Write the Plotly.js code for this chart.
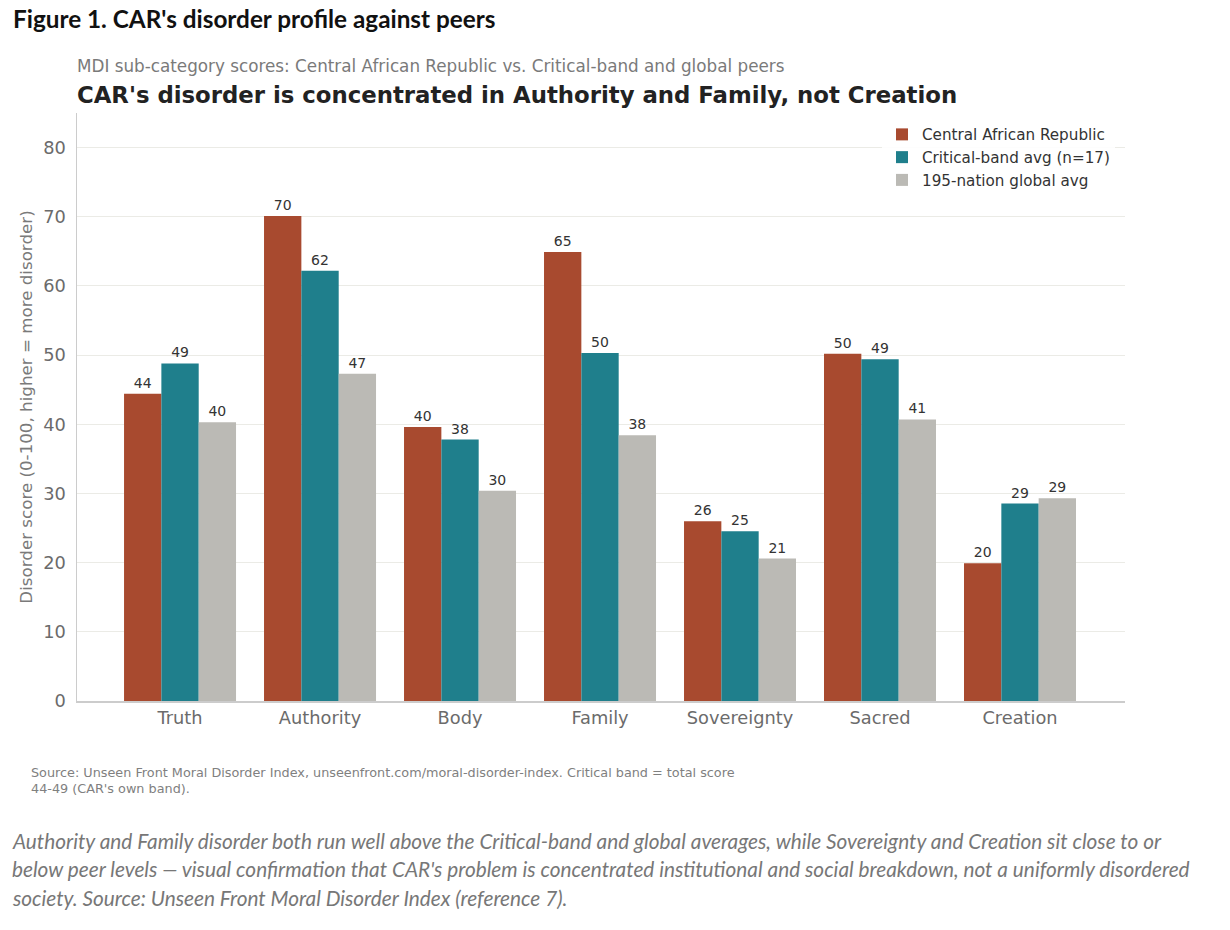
<!DOCTYPE html>
<html>
<head>
<meta charset="utf-8">
<script src="https://cdn.plot.ly/plotly-3.0.1.min.js"></script>
<style>
html,body{margin:0;padding:0;background:#fff;}
#chart{width:1230px;height:930px;}
</style>
</head>
<body>
<div id="chart"></div>
<script>
const categories = ["Truth","Authority","Body","Family","Sovereignty","Sacred","Creation"];
const carScores = [44.4, 70.1, 39.6, 64.9, 26.0, 50.2, 19.9];
const criticalScores = [48.8, 62.2, 37.8, 50.3, 24.55, 49.4, 28.55];
const globalScores = [40.3, 47.3, 30.4, 38.4, 20.6, 40.7, 29.3];
const seriesNames = ["Central African Republic","Critical-band avg (n=17)","195-nation global avg"];
const seriesColors = ["#A84A2F","#1F7F8C","#BBBAB5"];
const yTicks = [0,10,20,30,40,50,60,70,80];

const figTitle = "Figure 1. CAR's disorder profile against peers";
const subTitle = "MDI sub-category scores: Central African Republic vs. Critical-band and global peers";
const mainTitle = "CAR's disorder is concentrated in Authority and Family, not Creation";
const yTitle = "Disorder score (0-100, higher = more disorder)";
const sourceLines = ["Source: Unseen Front Moral Disorder Index, unseenfront.com/moral-disorder-index. Critical band = total score","44-49 (CAR's own band)."];
const captionLines = [
  "Authority and Family disorder both run well above the Critical-band and global averages, while Sovereignty and Creation sit close to or",
  "below peer levels \u2014 visual confirmation that CAR's problem is concentrated institutional and social breakdown, not a uniformly disordered",
  "society. Source: Unseen Front Moral Disorder Index (reference 7)."
];

const W = 1230, H = 930;
const L = 77, R = 1125, T = 113, B = 701;
const pw = R - L, ph = B - T;
const px = x => (x - L) / pw;
const py = y => (B - y) / ph;
const DV = "DejaVu Sans";

const allSeries = [carScores, criticalScores, globalScores];
const traces = allSeries.map((vals, i) => ({
  type: "bar",
  x: categories,
  y: vals,
  name: seriesNames[i],
  marker: {color: seriesColors[i], line: {width: 0}},
  texttemplate: "%{y:.0f}",
  textposition: "outside",
  textfont: {family: DV, size: 14, color: "#333"},
  cliponaxis: false,
  hoverinfo: "skip"
}));

const annotations = [];
annotations.push({text: "<b>" + figTitle + "</b>", xref: "paper", yref: "paper", x: px(11), y: py(19), xanchor: "left", yanchor: "middle", showarrow: false, font: {family: "Lato", size: 24.3, color: "#111"}});
annotations.push({text: subTitle, xref: "paper", yref: "paper", x: px(75), y: py(66), xanchor: "left", yanchor: "middle", showarrow: false, font: {family: DV, size: 16.8, color: "#7a7a7a"}});
annotations.push({text: "<b>" + mainTitle + "</b>", xref: "paper", yref: "paper", x: px(75), y: py(95), xanchor: "left", yanchor: "middle", showarrow: false, font: {family: DV, size: 22.8, color: "#222"}});
sourceLines.forEach((s, i) => {
  annotations.push({text: s, xref: "paper", yref: "paper", x: px(29), y: py(772 + i * 16), xanchor: "left", yanchor: "middle", showarrow: false, font: {family: DV, size: 12.8, color: "#808080"}});
});
captionLines.forEach((s, i) => {
  annotations.push({text: "<i>" + s + "</i>", xref: "paper", yref: "paper", x: px(10), y: py(840 + i * 28.5), xanchor: "left", yanchor: "middle", showarrow: false, font: {family: "Lato", size: 20.8, color: "#777"}});
});

const layout = {
  width: W, height: H,
  margin: {l: L, r: W - R, t: T, b: H - B, pad: 0},
  paper_bgcolor: "#fff",
  plot_bgcolor: "#fff",
  barmode: "group",
  bargap: 0.2,
  bargroupgap: 0,
  showlegend: true,
  legend: {
    x: px(882), y: py(118), xanchor: "left", yanchor: "top",
    bgcolor: "rgba(255,255,255,0.9)",
    font: {family: DV, size: 15.2, color: "#333"},
    tracegroupgap: 0,
    itemwidth: 30
  },
  xaxis: {
    range: [-0.736, 6.75],
    showgrid: false,
    showline: true, linecolor: "#cccccc", linewidth: 1.5,
    ticks: "",
    tickfont: {family: DV, size: 17.8, color: "#6b6b6b"},
    fixedrange: true,
    zeroline: false
  },
  yaxis: {
    range: [0, 85],
    tickvals: yTicks,
    showgrid: true, gridcolor: "#ebebe6", gridwidth: 1,
    showline: true, linecolor: "#cccccc", linewidth: 1.5,
    ticks: "",
    ticklabelstandoff: 6,
    tickfont: {family: DV, size: 17.8, color: "#6b6b6b"},
    title: {text: yTitle, font: {family: DV, size: 16.7, color: "#7a7a7a"}, standoff: 6},
    zeroline: false,
    fixedrange: true
  },
  annotations: annotations
};

Plotly.newPlot("chart", traces, layout, {displayModeBar: false, staticPlot: true});
</script>
</body>
</html>
